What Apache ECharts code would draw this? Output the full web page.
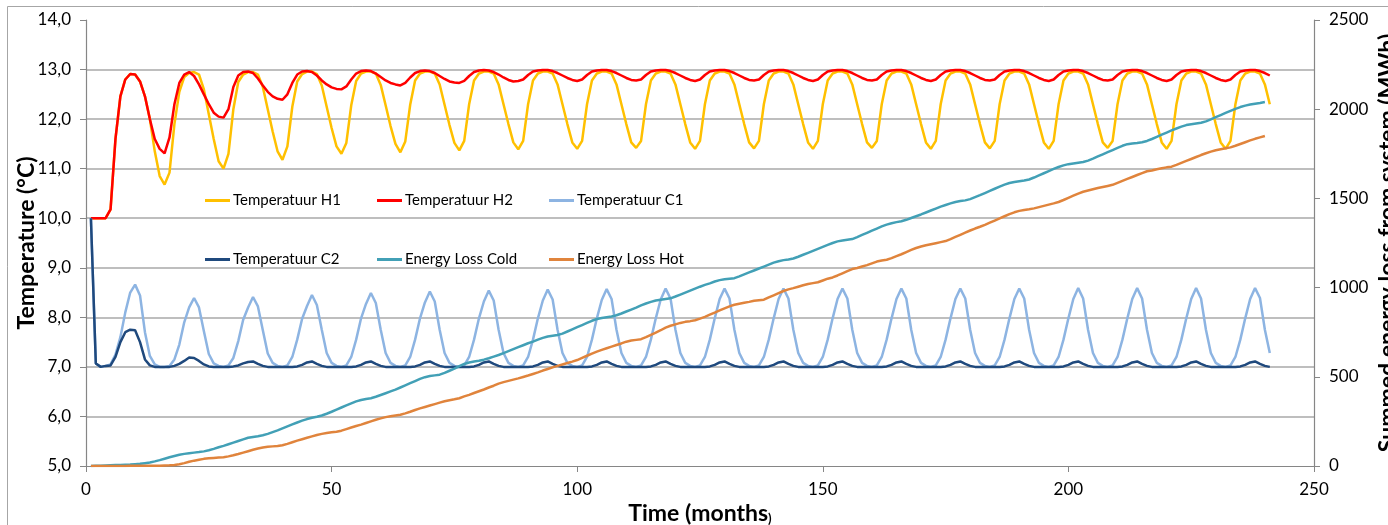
<!DOCTYPE html>
<html><head><meta charset="utf-8">
<script src="https://cdn.jsdelivr.net/npm/echarts@6/dist/echarts.min.js"></script>
<style>html,body{margin:0;padding:0;background:#fff}#c{width:1388px;height:525px}</style>
</head><body><div id="c"></div>
<script>
const seriesNames = ['Temperatuur H1','Temperatuur H2','Temperatuur C1','Temperatuur C2','Energy Loss Cold','Energy Loss Hot'];
const xTicks = [0, 50, 100, 150, 200, 250];
const tempTicks = [5, 6, 7, 8, 9, 10, 11, 12, 13, 14];
const energyTicks = [0, 500, 1000, 1500, 2000, 2500];

// Temperatures, one value per month (month 1 .. 241)
const tempH1 = [
10.0,10.0,10.0,10.0,10.18,11.6,12.46,12.8,12.91,12.9,12.76,12.46,12.0,11.35,10.85,
10.68,10.92,11.9,12.55,12.85,12.93,12.95,12.9,12.6,12.1,11.6,11.15,
11.0,11.3,12.2,12.75,12.9,12.95,12.95,12.9,12.65,12.2,11.75,11.35,
11.18,11.45,12.25,12.76,12.91,12.96,12.96,12.91,12.68,12.25,11.82,11.45,
11.3,11.52,12.28,12.77,12.92,12.96,12.96,12.92,12.69,12.28,11.86,11.5,
11.33,11.55,12.29,12.78,12.92,12.96,12.96,12.92,12.7,12.29,11.88,11.52,
11.37,11.56,12.3,12.78,12.92,12.96,12.96,12.92,12.7,12.3,11.9,11.53,
11.39,11.56,12.3,12.78,12.92,12.96,12.96,12.92,12.7,12.3,11.9,11.53,
11.4,11.56,12.3,12.78,12.92,12.96,12.96,12.92,12.7,12.3,11.9,11.53,
11.42,11.56,12.3,12.78,12.92,12.96,12.96,12.92,12.7,12.3,11.9,11.53,
11.4,11.56,12.3,12.78,12.92,12.96,12.96,12.92,12.7,12.3,11.9,11.53,
11.41,11.56,12.3,12.78,12.92,12.96,12.96,12.92,12.7,12.3,11.9,11.53,
11.4,11.56,12.3,12.78,12.92,12.96,12.96,12.92,12.7,12.3,11.9,11.53,
11.42,11.56,12.3,12.78,12.92,12.96,12.96,12.92,12.7,12.3,11.9,11.53,
11.4,11.56,12.3,12.78,12.92,12.96,12.96,12.92,12.7,12.3,11.9,11.53,
11.41,11.56,12.3,12.78,12.92,12.96,12.96,12.92,12.7,12.3,11.9,11.53,
11.4,11.56,12.3,12.78,12.92,12.96,12.96,12.92,12.7,12.3,11.9,11.53,
11.42,11.56,12.3,12.78,12.92,12.96,12.96,12.92,12.7,12.3,11.9,11.53,
11.4,11.56,12.3,12.78,12.92,12.96,12.96,12.92,12.7,12.3,11.9,11.53,
11.4,11.56,12.3,12.78,12.92,12.96,12.96,12.92,12.7,12.3
];
const tempH2 = [
10.0,10.0,10.0,10.0,10.18,11.6,12.46,12.8,12.91,12.9,12.76,12.46,12.0,11.6,11.4,
11.31,11.63,12.3,12.73,12.9,12.95,12.87,12.7,12.5,12.3,12.13,12.05,
12.03,12.2,12.65,12.88,12.95,12.96,12.93,12.82,12.68,12.55,12.46,12.41,
12.39,12.5,12.73,12.9,12.96,12.97,12.95,12.88,12.78,12.7,12.64,12.61,
12.6,12.66,12.8,12.92,12.97,12.98,12.97,12.92,12.85,12.78,12.73,12.7,
12.68,12.73,12.84,12.93,12.97,12.98,12.97,12.93,12.87,12.81,12.76,12.74,
12.73,12.77,12.87,12.95,12.98,12.99,12.98,12.95,12.9,12.84,12.79,12.76,
12.77,12.8,12.89,12.96,12.98,12.99,12.99,12.97,12.93,12.88,12.83,12.79,
12.77,12.8,12.89,12.96,12.98,12.99,12.99,12.97,12.93,12.88,12.83,12.79,
12.78,12.8,12.89,12.96,12.98,12.99,12.99,12.97,12.93,12.88,12.83,12.79,
12.77,12.8,12.89,12.96,12.98,12.99,12.99,12.97,12.93,12.88,12.83,12.79,
12.78,12.8,12.89,12.96,12.98,12.99,12.99,12.97,12.93,12.88,12.83,12.79,
12.77,12.8,12.89,12.96,12.98,12.99,12.99,12.97,12.93,12.88,12.83,12.79,
12.78,12.8,12.89,12.96,12.98,12.99,12.99,12.97,12.93,12.88,12.83,12.79,
12.77,12.8,12.89,12.96,12.98,12.99,12.99,12.97,12.93,12.88,12.83,12.79,
12.78,12.8,12.89,12.96,12.98,12.99,12.99,12.97,12.93,12.88,12.83,12.79,
12.77,12.8,12.89,12.96,12.98,12.99,12.99,12.97,12.93,12.88,12.83,12.79,
12.78,12.8,12.89,12.96,12.98,12.99,12.99,12.97,12.93,12.88,12.83,12.79,
12.77,12.8,12.89,12.96,12.98,12.99,12.99,12.97,12.93,12.88,12.83,12.79,
12.77,12.8,12.89,12.96,12.98,12.99,12.99,12.97,12.93,12.88
];
const tempC1 = [
10.0,7.07,7.0,7.02,7.05,7.25,7.6,8.1,8.5,
8.66,8.44,7.7,7.22,7.05,7.0,7.0,7.02,7.15,7.45,7.9,8.2,
8.39,8.2,7.72,7.26,7.07,7.02,7.0,7.03,7.18,7.52,7.95,8.2,
8.41,8.22,7.74,7.27,7.08,7.02,7.0,7.03,7.2,7.55,7.97,8.23,
8.45,8.25,7.75,7.28,7.08,7.02,7.0,7.03,7.2,7.55,7.98,8.27,
8.49,8.29,7.75,7.28,7.08,7.02,7.0,7.03,7.2,7.55,7.98,8.3,
8.52,8.32,7.75,7.28,7.08,7.02,7.0,7.03,7.2,7.55,7.98,8.32,
8.54,8.34,7.75,7.28,7.08,7.02,7.0,7.03,7.2,7.55,7.98,8.34,
8.56,8.36,7.75,7.28,7.08,7.02,7.0,7.03,7.2,7.55,7.98,8.35,
8.57,8.37,7.75,7.28,7.08,7.02,7.0,7.03,7.2,7.55,7.98,8.36,
8.58,8.38,7.75,7.28,7.08,7.02,7.0,7.03,7.2,7.55,7.98,8.37,
8.58,8.38,7.75,7.28,7.08,7.02,7.0,7.03,7.2,7.55,7.98,8.37,
8.58,8.38,7.75,7.28,7.08,7.02,7.0,7.03,7.2,7.55,7.98,8.37,
8.58,8.38,7.75,7.28,7.08,7.02,7.0,7.03,7.2,7.55,7.98,8.37,
8.58,8.38,7.75,7.28,7.08,7.02,7.0,7.03,7.2,7.55,7.98,8.37,
8.58,8.38,7.75,7.28,7.08,7.02,7.0,7.03,7.2,7.55,7.98,8.37,
8.58,8.38,7.75,7.28,7.08,7.02,7.0,7.03,7.2,7.55,7.98,8.37,
8.59,8.38,7.75,7.28,7.08,7.02,7.0,7.03,7.2,7.55,7.98,8.37,
8.59,8.38,7.75,7.28,7.08,7.02,7.0,7.03,7.2,7.55,7.98,8.37,
8.59,8.38,7.75,7.28,7.08,7.02,7.0,7.03,7.2,7.55,7.98,8.37,
8.59,8.39,7.75,7.28
];
const tempC2 = [
10.0,7.07,7.0,7.02,7.03,7.2,7.5,7.7,7.75,
7.74,7.5,7.15,7.03,7.0,7.0,7.0,7.0,7.02,7.06,7.12,7.19,
7.18,7.12,7.05,7.01,7.0,7.0,7.0,7.0,7.01,7.03,7.07,7.1,
7.11,7.06,7.02,7.0,7.0,7.0,7.0,7.0,7.0,7.01,7.04,7.09,
7.11,7.06,7.02,7.0,7.0,7.0,7.0,7.0,7.0,7.01,7.04,7.09,
7.11,7.06,7.02,7.0,7.0,7.0,7.0,7.0,7.0,7.01,7.04,7.09,
7.11,7.06,7.02,7.0,7.0,7.0,7.0,7.0,7.0,7.01,7.04,7.09,
7.11,7.06,7.02,7.0,7.0,7.0,7.0,7.0,7.0,7.01,7.04,7.09,
7.11,7.06,7.02,7.0,7.0,7.0,7.0,7.0,7.0,7.01,7.04,7.09,
7.11,7.06,7.02,7.0,7.0,7.0,7.0,7.0,7.0,7.01,7.04,7.09,
7.11,7.06,7.02,7.0,7.0,7.0,7.0,7.0,7.0,7.01,7.04,7.09,
7.11,7.06,7.02,7.0,7.0,7.0,7.0,7.0,7.0,7.01,7.04,7.09,
7.11,7.06,7.02,7.0,7.0,7.0,7.0,7.0,7.0,7.01,7.04,7.09,
7.11,7.06,7.02,7.0,7.0,7.0,7.0,7.0,7.0,7.01,7.04,7.09,
7.11,7.06,7.02,7.0,7.0,7.0,7.0,7.0,7.0,7.01,7.04,7.09,
7.11,7.06,7.02,7.0,7.0,7.0,7.0,7.0,7.0,7.01,7.04,7.09,
7.11,7.06,7.02,7.0,7.0,7.0,7.0,7.0,7.0,7.01,7.04,7.09,
7.11,7.06,7.02,7.0,7.0,7.0,7.0,7.0,7.0,7.01,7.04,7.09,
7.11,7.06,7.02,7.0,7.0,7.0,7.0,7.0,7.0,7.01,7.04,7.09,
7.11,7.06,7.02,7.0,7.0,7.0,7.0,7.0,7.0,7.01,7.04,7.09,
7.11,7.06,7.02,7.0
];
// Summed energy loss (MWh), month 1 .. 240
const lossCold = [
0,1,2,3,4,5,6,7,8,10,12,16,
20,26,33,41,49,56,63,68,72,75,78,82,
88,96,105,113,122,131,140,149,158,163,167,172,
180,190,200,211,222,233,244,254,263,270,276,283,
293,304,316,328,340,351,362,370,376,380,388,398,
408,418,428,440,452,464,476,488,498,504,508,512,
522,534,546,560,572,580,586,590,596,604,613,622,
633,644,655,666,677,688,697,708,718,726,730,734,
742,754,766,778,790,802,814,824,830,834,838,845,
855,866,877,888,900,911,920,928,932,936,940,950,
961,972,983,994,1005,1015,1024,1034,1042,1047,1050,1053,
1063,1074,1085,1096,1107,1118,1129,1140,1148,1154,1158,1163,
1173,1184,1195,1206,1217,1228,1239,1250,1259,1264,1268,1272,
1283,1295,1307,1319,1331,1343,1353,1361,1367,1372,1380,1390,
1400,1410,1421,1432,1443,1454,1463,1472,1480,1485,1489,1496,
1507,1518,1530,1542,1554,1566,1577,1586,1592,1596,1600,1606,
1617,1629,1641,1653,1665,1676,1685,1692,1696,1700,1704,1712,
1723,1735,1747,1759,1771,1783,1795,1804,1808,1811,1815,1822,
1833,1845,1857,1869,1881,1892,1902,1911,1916,1920,1924,1932,
1943,1955,1967,1979,1991,2002,2012,2020,2026,2031,2035,2040
];
const lossHot = [
0,0,0,0,0,0,0,0,1,1,1,1,
1,2,2,3,4,6,10,16,24,30,35,40,
43,45,47,49,54,60,67,75,83,91,98,104,
108,110,112,116,124,133,142,150,158,166,174,180,
185,189,192,198,207,216,224,232,241,250,259,267,
274,279,283,287,295,304,314,323,331,339,347,355,
363,369,374,380,390,399,409,419,429,440,450,462,
470,477,484,491,499,507,516,525,535,544,553,561,
569,577,585,594,606,618,630,641,651,660,669,678,
687,697,703,707,711,722,735,748,761,776,786,794,
802,808,812,817,826,836,848,860,872,884,895,904,
910,915,920,926,929,932,945,957,969,981,990,997,
1005,1013,1020,1025,1030,1040,1050,1057,1068,1080,1092,1104,
1110,1118,1126,1136,1146,1152,1156,1165,1176,1187,1199,1211,
1222,1230,1237,1243,1249,1255,1261,1272,1284,1296,1308,1320,
1331,1341,1352,1364,1376,1388,1400,1412,1422,1430,1435,1439,
1444,1451,1458,1465,1472,1480,1491,1503,1515,1527,1537,1544,
1551,1558,1564,1570,1576,1587,1598,1609,1620,1631,1642,1652,
1656,1663,1669,1674,1678,1688,1699,1710,1721,1732,1743,1753,
1762,1770,1776,1781,1786,1795,1805,1815,1825,1834,1842,1850
];

const colors = ['#FFC000','#FF0000','#8DB4E2','#1F497D','#42A0B6','#E0843C'];
const allData = [tempH1, tempH2, tempC1, tempC2, lossCold, lossHot];
const FONT = 'Lato';
const axisGray = '#868686';

const toPairs = arr => arr.map((v, i) => [i + 1, v]);

const legendLeft = [205, 377, 549];
const legends = seriesNames.map((n, i) => ({
  data: [n],
  left: legendLeft[i % 3],
  top: i < 3 ? 193 : 252,
  padding: 0,
  itemWidth: 25,
  itemHeight: 3,
  itemGap: 0,
  icon: 'rect',
  selectedMode: false,
  textStyle: { fontFamily: FONT, fontSize: 15, color: '#000', padding: [0, 0, 0, -2] }
}));

const chart = echarts.init(document.getElementById('c'), null, { renderer: 'canvas' });
chart.setOption({
  animation: false,
  backgroundColor: '#fff',
  graphic: [{
    type: 'rect', silent: true, z: -10,
    shape: { x: 7.5, y: 6.5, width: 1400, height: 540 },
    style: { fill: 'none', stroke: '#a6a6a6', lineWidth: 1 }
  }],
  legend: legends,
  grid: { left: 86, right: 74, top: 20, bottom: 59, containLabel: false, outerBoundsMode: 'none' },
  xAxis: {
    type: 'value', min: xTicks[0], max: xTicks[xTicks.length - 1], interval: 50,
    axisLine: { show: true, onZero: false, lineStyle: { color: axisGray, width: 1.2 } },
    axisTick: { show: true, length: 6, lineStyle: { color: axisGray } },
    axisLabel: { fontFamily: FONT, fontSize: 17, color: '#000', margin: 15 },
    splitLine: { show: false },
    name: '{a|Time (months}{b|)}',
    nameLocation: 'middle', nameGap: 36, nameMoveOverlap: false,
    nameTextStyle: {
      color: '#000',
      rich: {
        a: { fontFamily: FONT, fontSize: 23, fontWeight: 'bold', color: '#000' },
        b: { fontFamily: FONT, fontSize: 13, fontWeight: 'bold', color: '#000', verticalAlign: 'bottom' }
      }
    }
  },
  yAxis: [{
    type: 'value', position: 'left', min: tempTicks[0], max: tempTicks[tempTicks.length - 1], interval: 1,
    axisLine: { show: true, lineStyle: { color: axisGray, width: 1.2 } },
    axisTick: { show: true, length: 6, lineStyle: { color: axisGray } },
    axisLabel: { fontFamily: FONT, fontSize: 17, color: '#000', margin: 15,
      formatter: v => v.toFixed(1).replace('.', ',') },
    splitLine: { show: true, showMaxLine: false, showMinLine: false, lineStyle: { color: '#a8a8a8', width: 1.5 } },
    name: 'Temperature (°C)', nameLocation: 'middle', nameGap: 48, nameRotate: 90, nameMoveOverlap: false,
    nameTextStyle: { fontFamily: FONT, fontSize: 23, fontWeight: 'bold', color: '#000' }
  }, {
    type: 'value', position: 'right', min: energyTicks[0], max: energyTicks[energyTicks.length - 1], interval: 500,
    axisLine: { show: true, lineStyle: { color: axisGray, width: 1.2 } },
    axisTick: { show: true, length: 6, lineStyle: { color: axisGray } },
    axisLabel: { fontFamily: FONT, fontSize: 17, color: '#000', margin: 15, formatter: v => String(v) },
    splitLine: { show: false },
    name: 'Summed energy loss from system (MWh)', nameLocation: 'middle', nameGap: 62, nameRotate: 90, nameMoveOverlap: false,
    nameTextStyle: { fontFamily: FONT, fontSize: 23, fontWeight: 'bold', color: '#000' }
  }],
  series: seriesNames.map((n, i) => ({
    name: n,
    type: 'line',
    yAxisIndex: i < 4 ? 0 : 1,
    data: toPairs(allData[i]),
    showSymbol: false,
    symbol: 'none',
    color: colors[i],
    lineStyle: { color: colors[i], width: 2.5 },
    z: 2 + i
  }))
});
</script></body></html>
